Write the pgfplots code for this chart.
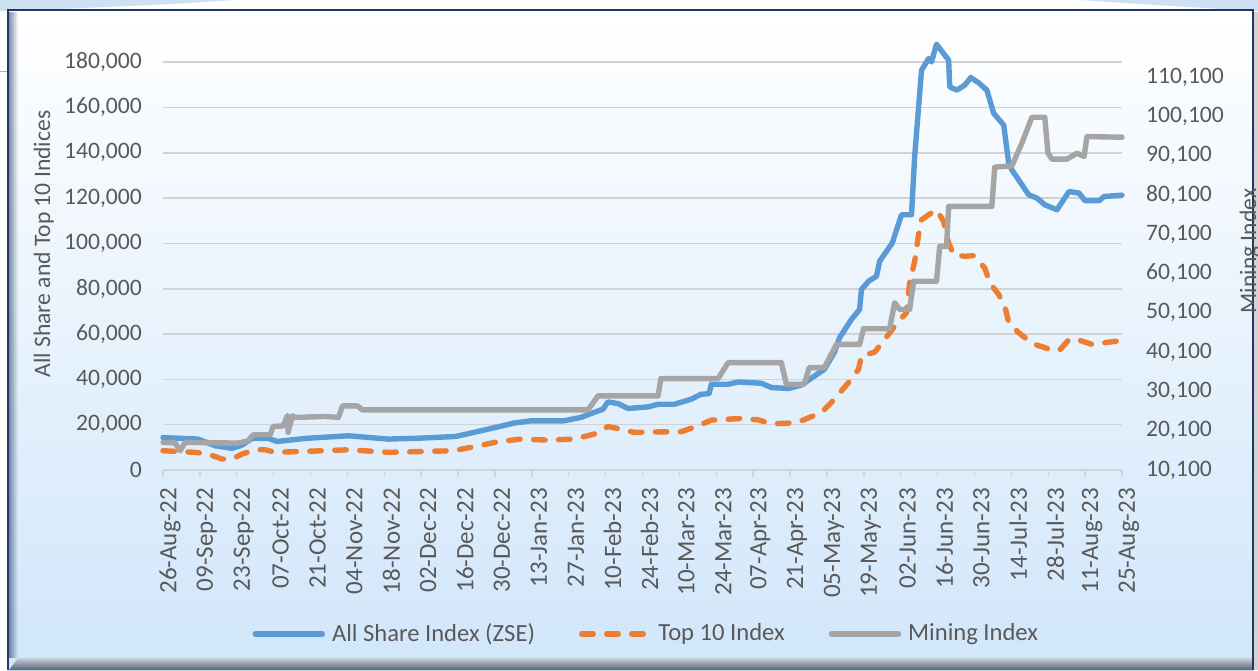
\documentclass[border=0pt]{standalone}
\usepackage{pgfplots}
\pgfplotsset{compat=1.18}
\usetikzlibrary{fadings}
\usepackage{fontspec}
\setmainfont{Carlito}
\definecolor{cblue}{RGB}{91,155,213}
\definecolor{corange}{RGB}{237,125,49}
\definecolor{cgray}{RGB}{165,165,165}
\definecolor{ctext}{RGB}{89,89,89}
\definecolor{cgrid}{RGB}{208,210,214}
\definecolor{cminor}{RGB}{238,241,245}
\definecolor{cxaxis}{RGB}{210,212,216}
\definecolor{cnavy}{RGB}{31,56,100}
\definecolor{cbgmid}{RGB}{222,239,252}
\definecolor{cbgbot}{RGB}{208,230,250}
\definecolor{cdeco}{RGB}{205,225,242}
\definecolor{cbevtop}{RGB}{196,210,224}
\definecolor{cbevbot}{RGB}{92,98,108}
\begin{document}
\fontsize{23.6}{28}\selectfont
\begin{tikzpicture}[x=1pt,y=1pt]
\useasboundingbox (0,0) rectangle (1258,670);
\fill[white] (0,0) rectangle (1258,670);
% slide decorations
\fill[cdeco] (0,670) -- (235,670) .. controls (150,664) and (60,661) .. (0,659) -- cycle;
\fill[cdeco] (1080,670) -- (1258,670) -- (1258,659) .. controls (1200,662) and (1140,666) .. (1080,670) -- cycle;
\draw[gray!60, line width=1pt] (0,598) -- (8,598);
% frame
\shade[top color=white, middle color=cbgmid, bottom color=cbgbot] (8,0) rectangle (1253,660);
\fill[gray!35] (1253,0) rectangle (1258,658);
% bevels
\fill[cnavy, fill opacity=0.55, path fading=east] (9,12) rectangle (18,659);
\shade[top color=cbevtop, bottom color=cbevbot] (9,0) -- (1253,0) -- (1253,12) -- (18,12) -- cycle;
\draw[cnavy, line width=2.2pt] (8,0) -- (8,660) -- (1253,660) -- (1253,0);
% minor grid (secondary axis)
\begin{axis}[at={(163pt,200pt)}, anchor=south west, scale only axis,
  width=959pt, height=426pt, xmin=0, xmax=364, ymin=10100, ymax=118520,
  axis line style={draw=none}, xtick=\empty, ytick=\empty,
  minor ytick={12100,14100,...,118100}, yminorgrids,
  minor grid style={cminor, line width=1.8pt}, minor tick length=0pt]
\end{axis}
% primary axis
\begin{axis}[at={(163pt,200pt)}, anchor=south west, scale only axis,
  width=959pt, height=426pt, xmin=0, xmax=364, ymin=0, ymax=188000,
  axis x line*=bottom, axis y line*=left,
  y axis line style={draw=none},
  x axis line style={draw=cxaxis, line width=1.6pt},
  tick align=outside, major tick length=7pt,
  xtick={0,14,...,364},
  xticklabels={26-Aug-22,09-Sep-22,23-Sep-22,07-Oct-22,21-Oct-22,04-Nov-22,18-Nov-22,02-Dec-22,16-Dec-22,30-Dec-22,13-Jan-23,27-Jan-23,10-Feb-23,24-Feb-23,10-Mar-23,24-Mar-23,07-Apr-23,21-Apr-23,05-May-23,19-May-23,02-Jun-23,16-Jun-23,30-Jun-23,14-Jul-23,28-Jul-23,11-Aug-23,25-Aug-23},
  xticklabel style={rotate=90, anchor=east, inner sep=0pt, yshift=-7pt, text=ctext, font=\fontsize{25}{30}\selectfont},
  xticklabel shift=11pt,
  x tick style={draw=cxaxis, line width=1.4pt},
  ytick={0,20000,...,180000}, scaled y ticks=false,
  y tick style={draw=none},
  yticklabel style={inner sep=0pt, xshift=-14pt, text=ctext},
  ymajorgrids, major grid style={cgrid, line width=1.6pt},
  /pgf/number format/.cd, fixed, precision=0, 1000 sep={,}, assume math mode=true, /pgfplots/.cd,
  clip=false,
  legend style={at={(0.504,-0.385)}, anchor=center, draw=none, fill=none,
    legend columns=3, text=ctext, inner sep=0pt, font=\fontsize{24.6}{29}\selectfont,
    /tikz/every odd column/.append style={column sep=5pt},
    /tikz/every even column/.append style={column sep=42pt}},
  legend image code/.code={\draw[#1] (0pt,0pt) -- (67pt,0pt);},
  ]
\addplot[cblue, line width=5.4pt, line join=round, line cap=round] coordinates {
(0,14300) (13.3,13640) (19.8,10700) (26.2,9550) (30,11000) (33.9,13950) (39.9,13950) (43.4,12600) (54,13950) (70.4,15100) (85.6,13640) (98.5,14100) (111.1,14800) (120.6,17300) (127,19000) (133.1,20680) (139.6,21700) (152.1,21700) (158.6,23200) (163.6,25400) (167,26840) (168.9,30050) (172.7,29300) (176.5,27150) (184.1,27850) (187.9,29000) (194,29000) (200.5,31240) (204.3,33440) (207.3,33700) (208.1,37840) (214.5,37840) (218.3,38850) (227.1,38280) (230.9,36400) (237.4,35950) (242.3,37500) (251,44440) (254.8,51800) (256.8,58400) (261.3,66440) (264.4,70840) (265.1,79640) (267.8,83300) (270.8,85500) (272,92100) (276.8,100200) (280.3,112640) (284.1,112640) (285.3,138300) (287.9,176400) (290.6,181600) (291.7,180100) (293.6,187900) (298.2,180840) (298.6,169100) (301.3,167640) (304.3,169840) (306.6,173200) (309.6,170850) (312.7,167640) (315.3,157400) (319.1,152240) (321,135400) (322.2,132440) (328.6,121440) (331.7,120000) (334.7,117040) (339.3,114840) (343.9,122900) (347.7,122200) (349.9,118900) (355.3,118900) (357.2,120700) (364,121300)
};
\addlegendentry{All Share Index (ZSE)}
\addplot[corange, line width=5.4pt, line join=round, line cap=round, dash pattern=on 11.5pt off 13.5pt] coordinates {
(0,8500) (12.2,7800) (17.1,7040) (22.4,4840) (26.2,4840) (30,7040) (35,8930) (38.8,8930) (42.6,7800) (60.5,8500) (70.4,8930) (85.6,7800) (110.3,8500) (119.8,10700) (127,12450) (135.8,13640) (146.1,13200) (156,13640) (163.6,15840) (168.9,19200) (173.8,18040) (178.8,16590) (190.2,16850) (196.7,16900) (203.1,19490) (208.1,22000) (219.5,22750) (225.9,22130) (230.9,20370) (237.4,20680) (242.3,21700) (249.9,25400) (253.7,29800) (260.2,38600) (264,44440) (265.1,50300) (270.1,52000) (273.9,57640) (279.2,65700) (282.2,69400) (283.4,82600) (285.3,92000) (286.8,104000) (287.9,110400) (290.6,112640) (293.6,114840) (296.3,109700) (298.2,100200) (300.1,95000) (304.3,94300) (307.7,94600) (311.9,89200) (313.8,82600) (317.2,77440) (319.5,72300) (321,65000) (324.8,60600) (329.8,55900) (333.6,54400) (338.5,52500) (340.4,53000) (343.9,57640) (347.7,57300) (352.6,55440) (357.6,56200) (364,57200)
};
\addlegendentry{Top 10 Index}
\addlegendimage{cgray, line width=5.4pt, line cap=round}
\addlegendentry{Mining Index}
\end{axis}
% secondary axis
\begin{axis}[at={(163pt,200pt)}, anchor=south west, scale only axis,
  width=959pt, height=426pt, xmin=0, xmax=364, ymin=10100, ymax=118520,
  axis y line*=right, axis x line=none,
  y axis line style={draw=none}, major tick length=0pt,
  ytick={10100,20100,...,110100}, scaled y ticks=false,
  y tick style={draw=none},
  yticklabel style={inner sep=0pt, xshift=24pt, text=ctext},
  /pgf/number format/.cd, fixed, precision=0, 1000 sep={,}, assume math mode=true, /pgfplots/.cd,
  clip=false]
\addplot[cgray, line width=5.4pt, line join=round, line cap=round] coordinates {
(0,17130) (4.6,17000) (6.5,15000) (8.4,17130) (28.5,16950) (32.3,17500) (34.2,19060) (40.7,19060) (41.8,21190) (45.6,21300) (47.2,23880) (47.5,19670) (49.1,23880) (50.2,23470) (61.6,23730) (66.6,23470) (68.1,26420) (73.8,26420) (75.7,25400) (161.3,25400) (165.1,28960) (187.9,28960) (189,33370) (210.7,33370) (214.5,37430) (234.7,37430) (236.6,31930) (243.4,31930) (245.3,36170) (251,36170) (255.6,42080) (264.4,42080) (265.9,46060) (275.8,46060) (277.7,52660) (279.6,50960) (283.4,50960) (284.9,58140) (293.6,58140) (294.8,67030) (297.4,67030) (298.2,77180) (314.6,77180) (315.7,87180) (322.2,87510) (326,93270) (329.8,99870) (334.7,99870) (335.9,90730) (337.4,89210) (343.1,89210) (346.9,90730) (349.6,89870) (350.7,94950) (364,94800)
};
\end{axis}
\node[rotate=90, anchor=base, text=ctext, inner sep=0pt] at (50,426) {All Share and Top 10 Indices};
\node[rotate=90, anchor=base, text=ctext, inner sep=0pt] at (1256,419) {Mining Index};
\end{tikzpicture}
\end{document}
